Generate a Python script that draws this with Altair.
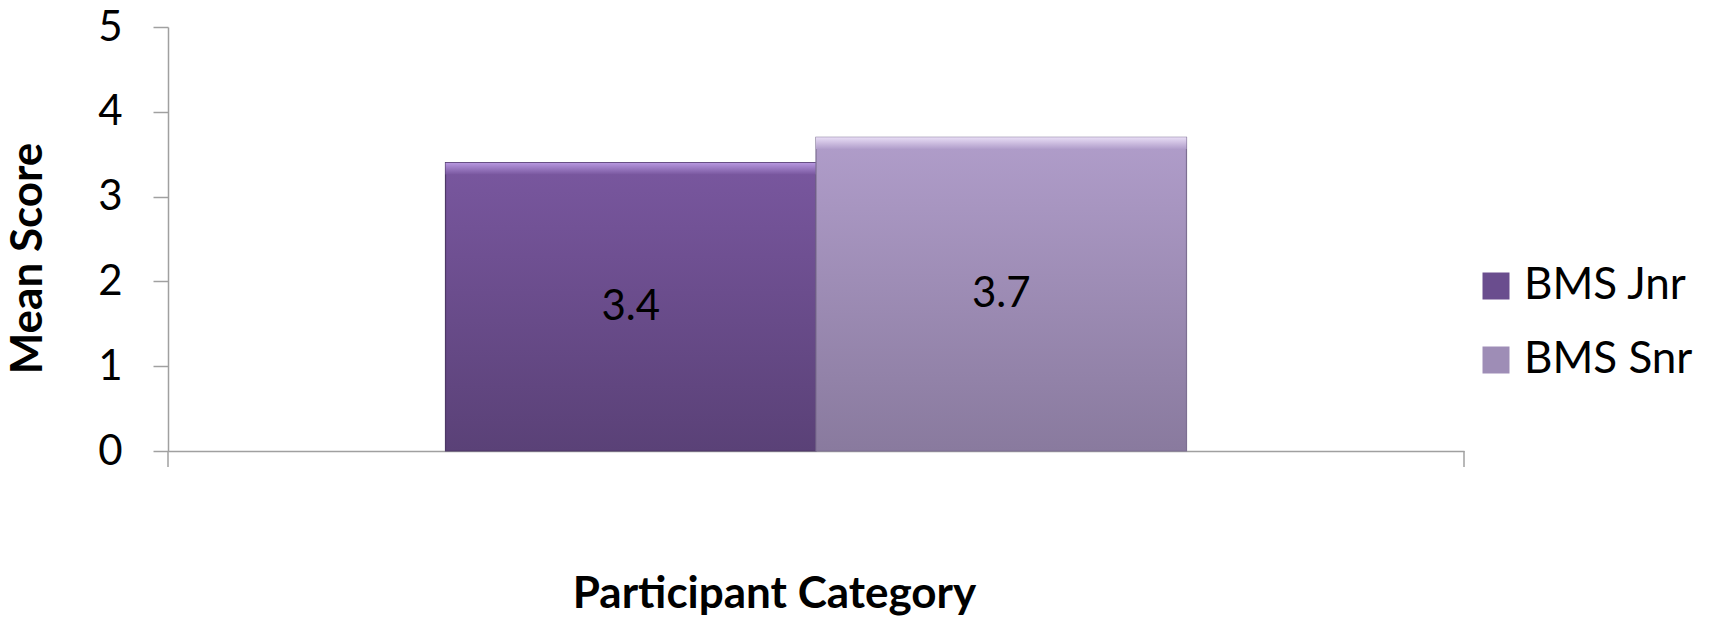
import altair as alt
import pandas as pd

# Chart data
series = ["BMS Jnr", "BMS Snr"]
scores = [3.4, 3.7]
y_ticks = [0, 1, 2, 3, 4, 5]

# Bar styling: flat legend colour, gradient top/bottom, bevel highlight, edge
flat_colors = ["#6a4d8e", "#9e8db6"]
top_colors = ["#79579f", "#b09dca"]
bottom_colors = ["#5a4177", "#897a9e"]
bevel_colors = ["#b898e0", "#e8ddf5"]
edge_colors = ["#4d3866", "#7d6f92"]

FONT = "Lato"
AXIS_GREY = "#a0a0a0"
W, H = 1296, 424

df = pd.DataFrame({"series": series, "score": scores})

x_enc = alt.X(
    "series:N",
    scale=alt.Scale(domain=series, paddingInner=0, paddingOuter=0.749),
    axis=alt.Axis(
        labels=False,
        ticks=False,
        domainColor=AXIS_GREY,
        domainWidth=1.5,
        title="Participant Category",
        titleFont=FONT,
        titleFontSize=44,
        titleFontWeight="bold",
        titleColor="#000000",
        titleX=606,
        titleY=156,
        titleAlign="center",
        titleBaseline="alphabetic",
    ),
)
y_scale = alt.Scale(domain=[0, 5], nice=False, zero=True)
y_enc = alt.Y(
    "score:Q",
    scale=y_scale,
    axis=alt.Axis(
        values=y_ticks,
        format="d",
        grid=False,
        tickSize=15,
        tickColor=AXIS_GREY,
        tickWidth=1.5,
        domainColor=AXIS_GREY,
        domainWidth=1.5,
        labelFont=FONT,
        labelFontSize=42,
        labelColor="#000000",
        labelPadding=31,
        title="Mean Score",
        titleFont=FONT,
        titleFontSize=44,
        titleFontWeight="bold",
        titleColor="#000000",
        titleAngle=-90,
        titleX=-140,
        titleY=231,
        titleAlign="center",
        titleBaseline="middle",
    ),
)

base = alt.Chart(df)

# Flat bars carry the colour legend
flat = base.mark_bar(strokeWidth=0).encode(
    x=x_enc,
    y=y_enc,
    color=alt.Color(
        "series:N",
        scale=alt.Scale(domain=series, range=flat_colors),
        legend=alt.Legend(
            title=None,
            orient="none",
            legendX=1306,
            legendY=237,
            padding=0,
            symbolType="square",
            symbolSize=729,
            symbolStrokeWidth=0,
            labelFont=FONT,
            labelFontSize=44,
            labelColor="#000000",
            labelOffset=6,
            labelLimit=400,
            rowPadding=30,
        ),
    ),
)

layers = [flat]
for i, name in enumerate(series):
    sub = base.transform_filter(alt.datum.series == name)
    shaded = sub.mark_bar(
        fill=alt.Gradient(
            gradient="linear",
            stops=[
                alt.GradientStop(color=top_colors[i], offset=0),
                alt.GradientStop(color=bottom_colors[i], offset=1),
            ],
            x1=0, x2=0, y1=0, y2=1,
        ),
        stroke=edge_colors[i],
        strokeWidth=1.2,
    ).encode(x=alt.X("series:N"), y=alt.Y("score:Q", scale=y_scale))
    bevel = sub.transform_calculate(bevel_bottom="datum.score - 0.14").mark_bar(
        fill=alt.Gradient(
            gradient="linear",
            stops=[
                alt.GradientStop(color=bevel_colors[i], offset=0),
                alt.GradientStop(color=top_colors[i], offset=1),
            ],
            x1=0, x2=0, y1=0, y2=1,
        ),
        strokeWidth=0,
    ).encode(
        x=alt.X("series:N"),
        y=alt.Y("score:Q", scale=y_scale),
        y2="bevel_bottom:Q",
    )
    layers += [shaded, bevel]

labels = base.transform_calculate(mid="datum.score / 2").mark_text(
    font=FONT, fontSize=42, color="#000000", baseline="middle", align="center"
).encode(
    x=alt.X("series:N"),
    y=alt.Y("mid:Q", scale=y_scale),
    text=alt.Text("score:Q", format=".1f"),
)
layers.append(labels)

# Category-axis end ticks below the baseline
edge = alt.Chart(pd.DataFrame({"k": [0]}))
for xpos in (0, W):
    layers.append(
        edge.mark_rule(color=AXIS_GREY, strokeWidth=1.5).encode(
            x=alt.value(xpos), y=alt.value(H), y2=alt.value(H + 16)
        )
    )

chart = (
    alt.layer(*layers)
    .properties(
        width=W,
        height=H,
        autosize=alt.AutoSizeParams(type="none"),
        padding={"left": 168, "top": 27, "right": 265, "bottom": 170},
        background="#ffffff",
    )
    .configure_view(stroke=None)
)

chart.save("out.html", embed_options={"renderer": "svg", "actions": False})
